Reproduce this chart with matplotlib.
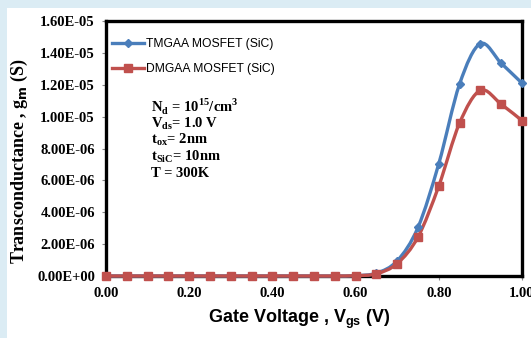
import matplotlib.pyplot as plt
import numpy as np
from matplotlib.path import Path
from matplotlib.patches import PathPatch, Rectangle

# gate voltage sweep (V) and transconductance (S)
vgs = [0.00, 0.05, 0.10, 0.15, 0.20, 0.25, 0.30, 0.35, 0.40, 0.45, 0.50,
       0.55, 0.60, 0.65, 0.70, 0.75, 0.80, 0.85, 0.90, 0.95, 1.00]
gm_tmgaa = [0, 0, 0, 0, 0, 0, 0, 0, 0, 0, 0,
            0, 0.02e-6, 0.18e-6, 0.95e-6, 3.05e-6, 7.05e-6, 1.205e-5, 1.458e-5, 1.335e-5, 1.21e-5]
gm_dmgaa = [0, 0, 0, 0, 0, 0, 0, 0, 0, 0, 0,
            0, 0.02e-6, 0.14e-6, 0.78e-6, 2.45e-6, 5.65e-6, 9.6e-6, 1.165e-5, 1.078e-5, 9.75e-6]

yticks = [0, 2e-6, 4e-6, 6e-6, 8e-6, 1e-5, 1.2e-5, 1.4e-5, 1.6e-5]
ytick_labels = ["0.00E+00", "2.00E-06", "4.00E-06", "6.00E-06", "8.00E-06",
                "1.00E-05", "1.20E-05", "1.40E-05", "1.60E-05"]
xticks = [0.0, 0.2, 0.4, 0.6, 0.8, 1.0]
xtick_labels = ["0.00", "0.20", "0.40", "0.60", "0.80", "1.00"]

BLUE = "#4a7ebb"
RED = "#c0504d"
SERIF = "Liberation Serif"
SANS = "Liberation Sans"


def smooth_path(xs, ys):
    # cubic bezier through every point, like a spreadsheet "smoothed line"
    p = np.column_stack([xs, ys]).astype(float)
    n = len(p)
    verts = [p[0]]
    codes = [Path.MOVETO]
    for i in range(n - 1):
        p0 = p[i - 1] if i > 0 else p[i]
        p3 = p[i + 2] if i + 2 < n else p[i + 1]
        c1 = p[i] + (p[i + 1] - p0) / 6
        c2 = p[i + 1] - (p3 - p[i]) / 6
        verts += [c1, c2, p[i + 1]]
        codes += [Path.CURVE4] * 3
    return Path(verts, codes)


fig = plt.figure(figsize=(5.31, 3.38), dpi=100)
fig.patch.set_facecolor("white")
# light blue page border on the top and left
fig.patches.append(Rectangle((0, 0), 7 / 531, 1, transform=fig.transFigure,
                             facecolor="#dbecf4", edgecolor="none", zorder=0))
fig.patches.append(Rectangle((0, 1 - 8 / 338), 1, 8 / 338, transform=fig.transFigure,
                             facecolor="#dbecf4", edgecolor="none", zorder=0))

ax = fig.add_axes([106 / 531, 1 - 276 / 338, 416 / 531, 255 / 338])

for ys, color, marker, ms, label in [
        (gm_tmgaa, BLUE, "D", 4.5, "TMGAA MOSFET (SiC)"),
        (gm_dmgaa, RED, "s", 6.3, "DMGAA MOSFET (SiC)")]:
    ax.add_patch(PathPatch(smooth_path(vgs, ys), facecolor="none", edgecolor=color,
                           lw=2.4, zorder=3, clip_on=False))
    ax.plot(vgs, ys, linestyle="none", marker=marker, ms=ms, color=color,
            zorder=4, clip_on=False)
    ax.plot([], [], color=color, lw=2.4, marker=marker, ms=ms, label=label)

ax.set_xlim(0, 1.0)
ax.set_ylim(0, 1.6e-5)
ax.set_xticks(xticks)
ax.set_xticklabels(xtick_labels, family=SERIF, fontweight="bold", fontsize=10.5)
ax.set_yticks(yticks)
ax.set_yticklabels(ytick_labels, family=SERIF, fontweight="bold", fontsize=10.5)
ax.tick_params(axis="both", length=3, width=0.8, color="#888888", pad=5)

for s in ax.spines.values():
    s.set_linewidth(2.4)
    s.set_color("black")

ax.set_ylabel("Transconductance , g$_\\mathbf{m}$ (S)", family=SERIF,
              fontweight="bold", fontsize=13)
ax.yaxis.set_label_coords(-0.183, 0.45)
ax.set_xlabel("Gate Voltage , V$_\\mathregular{gs}$ (V)", family=SANS,
              fontweight="bold", fontsize=13)
ax.xaxis.set_label_coords(0.464, -0.125)

leg = ax.legend(loc="upper left", bbox_to_anchor=(-0.005, 0.965), frameon=False,
                prop={"family": SANS, "size": 8.7}, handlelength=2.6,
                handletextpad=0.2, labelspacing=1.05, borderaxespad=0.3)

params = ["N$_\\mathregular{d}$ = 10$^\\mathregular{15}$/cm$^\\mathregular{3}$",
          "V$_\\mathregular{ds}$= 1.0 V",
          "t$_\\mathregular{ox}$= 2nm",
          "t$_\\mathregular{SiC}$= 10nm",
          "T = 300K"]
for i, txt in enumerate(params):
    ax.text(0.107, 0.665 - i * 0.066, txt, transform=ax.transAxes, family=SERIF,
            fontweight="bold", fontsize=10.5, va="center", ha="left")

fig.savefig("out.png", dpi=100, facecolor=fig.get_facecolor())
